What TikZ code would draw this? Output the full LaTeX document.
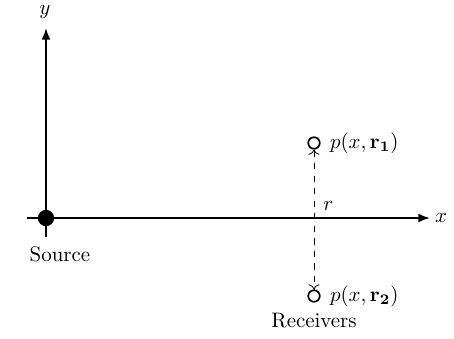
\documentclass[tikz,border=0pt]{standalone}
\usepackage{amsmath}
\usepackage{tikz}
\usetikzlibrary{
  arrows.meta,
  positioning
}

\begin{document}
\begin{tikzpicture}[x=0.0168cm, y=-0.0168cm, every node/.style={font=\normalsize}]
    \useasboundingbox (0,0) rectangle (454,338);
    % axes
    \coordinate (xstart) at (27,218);
    \coordinate (xend) at (430,218);
    \coordinate (ystart) at (46,237);
    \coordinate (yend) at (46,28);
    \draw[thick, -{Latex[length=5.5pt]}] (xstart) -- (xend);
    \draw[thick, -{Latex[length=5.5pt]}] (ystart) -- (yend);
    \node (xlabel) at (441,218) {$x$};
    \node (ylabel) at (45,12) {$y$};

    % source
    \node[circle, fill=black, inner sep=0pt, minimum size=7.8pt] (source) at (46,218) {};
    \node (sourcelabel) at (60,254) {Source};

    % receivers
    \node[circle, draw, thick, fill=white, inner sep=0pt, minimum size=5.5pt] (rec1) at (314,143) {};
    \node[circle, draw, thick, fill=white, inner sep=0pt, minimum size=5.5pt] (rec2) at (314,296) {};
    \node[right=1pt of rec1] (rec1label) {$p(x,\mathbf{r_1})$};
    \node[right=1pt of rec2] (rec2label) {$p(x,\mathbf{r_2})$};
    \node (reclabel) at (314,321) {Receivers};
    \draw[dashed, <->] (rec1) -- node[pos=0.4, right, xshift=1pt]{$r$} (rec2);
\end{tikzpicture}
\end{document}
